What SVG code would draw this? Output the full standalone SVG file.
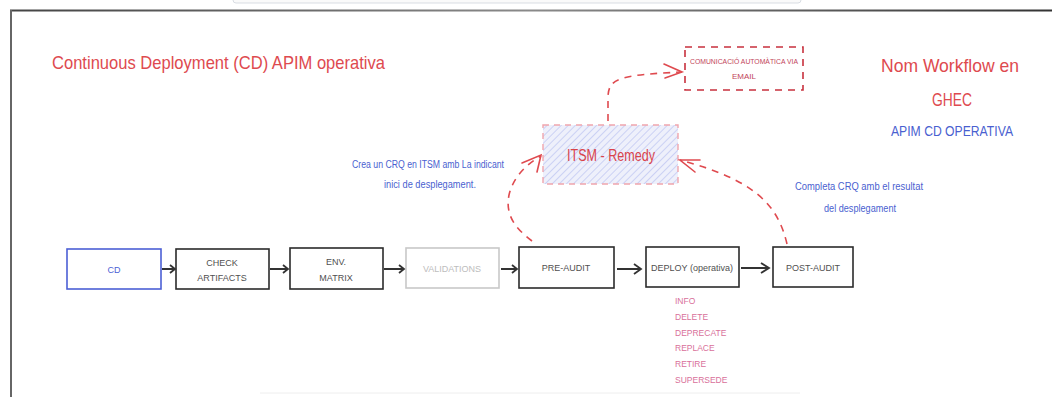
<svg xmlns="http://www.w3.org/2000/svg" width="1052" height="397" viewBox="0 0 1052 397">
  <defs>
    <style>
      .hand { font-family: "Liberation Sans", "DejaVu Sans", sans-serif; }
      .title { fill: #de4a4f; font-size: 19px; }
      .note { fill: #4a5fd0; font-size: 10px; }
      .box { fill: #ffffff; stroke: #2b2b2b; stroke-width: 1.6; }
      .lbl { fill: #505050; font-size: 9px; text-anchor: middle; }
      .flow { fill: none; stroke: #333333; stroke-width: 1.8; }
      .dash { fill: none; stroke: #df4a4f; stroke-width: 1.6; stroke-dasharray: 7 6; }
      .head { fill: none; stroke: #df4a4f; stroke-width: 1.6; stroke-linecap: round; }
      .ops { fill: #d9709a; font-size: 8.5px; }
    </style>
    <pattern id="hatch" patternUnits="userSpaceOnUse" width="5" height="5" patternTransform="rotate(45)">
      <rect width="5" height="5" fill="#eef0fb"/>
      <line x1="0" y1="0" x2="0" y2="5" stroke="#b3bdf0" stroke-width="1.2"/>
    </pattern>
    <linearGradient id="frameTop" x1="0" x2="1" y1="0" y2="0">
      <stop offset="0" stop-color="#444"/>
      <stop offset="0.5" stop-color="#8a8a8a"/>
      <stop offset="1" stop-color="#333"/>
    </linearGradient>
  </defs>

  <rect width="1052" height="397" fill="#ffffff"/>

  <!-- page frame -->
  <rect x="233" y="-6" width="568" height="9" rx="3" fill="#fafafa" stroke="#d9dde3"/>
  <rect x="10" y="9.5" width="1042" height="2" fill="url(#frameTop)"/>
  <rect x="10" y="10" width="2" height="387" fill="#666"/>
  <line x1="260" y1="393" x2="800" y2="393" stroke="#eeeeee" stroke-width="1"/>

  <!-- headings -->
  <text class="hand title" x="52" y="69" textLength="333" lengthAdjust="spacingAndGlyphs">Continuous Deployment (CD) APIM operativa</text>
  <g id="workflow-name">
    <text class="hand title" x="950" y="72" text-anchor="middle" textLength="138" lengthAdjust="spacingAndGlyphs">Nom Workflow en</text>
    <text class="hand title" x="952" y="106" text-anchor="middle" font-size="21" textLength="40" lengthAdjust="spacingAndGlyphs">GHEC</text>
    <text class="hand" x="952" y="136" text-anchor="middle" fill="#4a5fd0" font-size="14" textLength="122" lengthAdjust="spacingAndGlyphs">APIM CD OPERATIVA</text>
  </g>

  <!-- notes -->
  <g id="note-create">
    <text class="hand note" x="428" y="168" text-anchor="middle" textLength="152" lengthAdjust="spacingAndGlyphs">Crea un CRQ en ITSM amb La indicant</text>
    <text class="hand note" x="430" y="188" text-anchor="middle" textLength="92" lengthAdjust="spacingAndGlyphs">inici de desplegament.</text>
  </g>
  <g id="note-complete">
    <text class="hand note" x="859" y="190" text-anchor="middle" textLength="128" lengthAdjust="spacingAndGlyphs">Completa CRQ amb el resultat</text>
    <text class="hand note" x="860" y="212" text-anchor="middle" textLength="72" lengthAdjust="spacingAndGlyphs">del desplegament</text>
  </g>

  <!-- email node -->
  <g id="email">
    <rect x="685" y="47" width="118" height="43" fill="#ffffff" stroke="#c8313e" stroke-width="1.6" stroke-dasharray="7 6"/>
    <text class="hand" x="744" y="64" text-anchor="middle" fill="#c2455a" font-size="8" textLength="108" lengthAdjust="spacingAndGlyphs">COMUNICACIÓ AUTOMÀTICA VIA</text>
    <text class="hand" x="744" y="79" text-anchor="middle" fill="#c2455a" font-size="8" textLength="24" lengthAdjust="spacingAndGlyphs">EMAIL</text>
  </g>

  <!-- ITSM node -->
  <g id="itsm">
    <rect x="543" y="125" width="135" height="59" fill="url(#hatch)" stroke="#f0a5ad" stroke-width="1.4" stroke-dasharray="6 5"/>
    <text class="hand" x="611" y="161" text-anchor="middle" fill="#d9434b" font-size="16" textLength="88" lengthAdjust="spacingAndGlyphs">ITSM - Remedy</text>
  </g>

  <!-- pipeline nodes -->
  <g id="cd">
    <rect x="67" y="249" width="94" height="40" fill="#ffffff" stroke="#4c5fd5" stroke-width="1.6"/>
    <text class="hand" x="114" y="273" text-anchor="middle" fill="#4c5fd5" font-size="9">CD</text>
  </g>
  <g id="check-artifacts">
    <rect class="box" x="176" y="249" width="93" height="40"/>
    <text class="hand lbl" x="222" y="266">CHECK</text>
    <text class="hand lbl" x="222" y="281">ARTIFACTS</text>
  </g>
  <g id="env-matrix">
    <rect class="box" x="290" y="248" width="93" height="41"/>
    <text class="hand lbl" x="336" y="265">ENV.</text>
    <text class="hand lbl" x="336" y="281">MATRIX</text>
  </g>
  <g id="validations">
    <rect x="406" y="248" width="93" height="40" fill="#ffffff" stroke="#c8c8c8" stroke-width="1.6"/>
    <text class="hand lbl" x="452" y="272" style="fill:#bdbdbd">VALIDATIONS</text>
  </g>
  <g id="pre-audit">
    <rect class="box" x="519" y="247" width="95" height="41"/>
    <text class="hand lbl" x="566" y="271">PRE-AUDIT</text>
  </g>
  <g id="deploy">
    <rect class="box" x="646" y="247" width="93" height="40"/>
    <text class="hand lbl" x="692" y="271">DEPLOY (operativa)</text>
  </g>
  <g id="post-audit">
    <rect class="box" x="773" y="247" width="80" height="40"/>
    <text class="hand lbl" x="813" y="271">POST-AUDIT</text>
  </g>

  <!-- deploy operations -->
  <g id="operations" class="hand ops">
    <text x="675" y="304">INFO</text>
    <text x="675" y="320">DELETE</text>
    <text x="675" y="336">DEPRECATE</text>
    <text x="675" y="351">REPLACE</text>
    <text x="675" y="367">RETIRE</text>
    <text x="675" y="383">SUPERSEDE</text>
  </g>

  <!-- connectors -->
  <g id="connectors">
    <path class="flow" d="M162,269 L175,269 M170,265 L175,269 L170,273"/>
    <path class="flow" d="M270,269 L288,269 M283,265 L288,269 L283,273"/>
    <path class="flow" d="M384,269 L404,269 M399,265 L404,269 L399,273"/>
    <path class="flow" d="M501,269 L517,269 M512,265 L517,269 L512,273"/>
    <path class="flow" d="M617,269 L641,269 M634,264 L641,269 L634,274"/>
    <path class="flow" d="M741,268 L769,268 M761,263 L769,268 L761,273"/>

    <!-- ITSM -> email -->
    <path class="dash" d="M608,121 L608,96 C609,78 620,75 682,72"/>
    <path class="head" d="M664,64 L682,72 L665,78"/>
    <!-- pre-audit -> ITSM -->
    <path class="dash" d="M532,241 C515,228 505,215 509,195 C513,178 525,165 541,156"/>
    <path class="head" d="M522,163 L541,155 L537,172"/>
    <!-- post-audit -> ITSM -->
    <path class="dash" d="M787,244 C778,205 755,180 680,160"/>
    <path class="head" d="M700,160 L680,160 L695,172"/>
  </g>
</svg>
